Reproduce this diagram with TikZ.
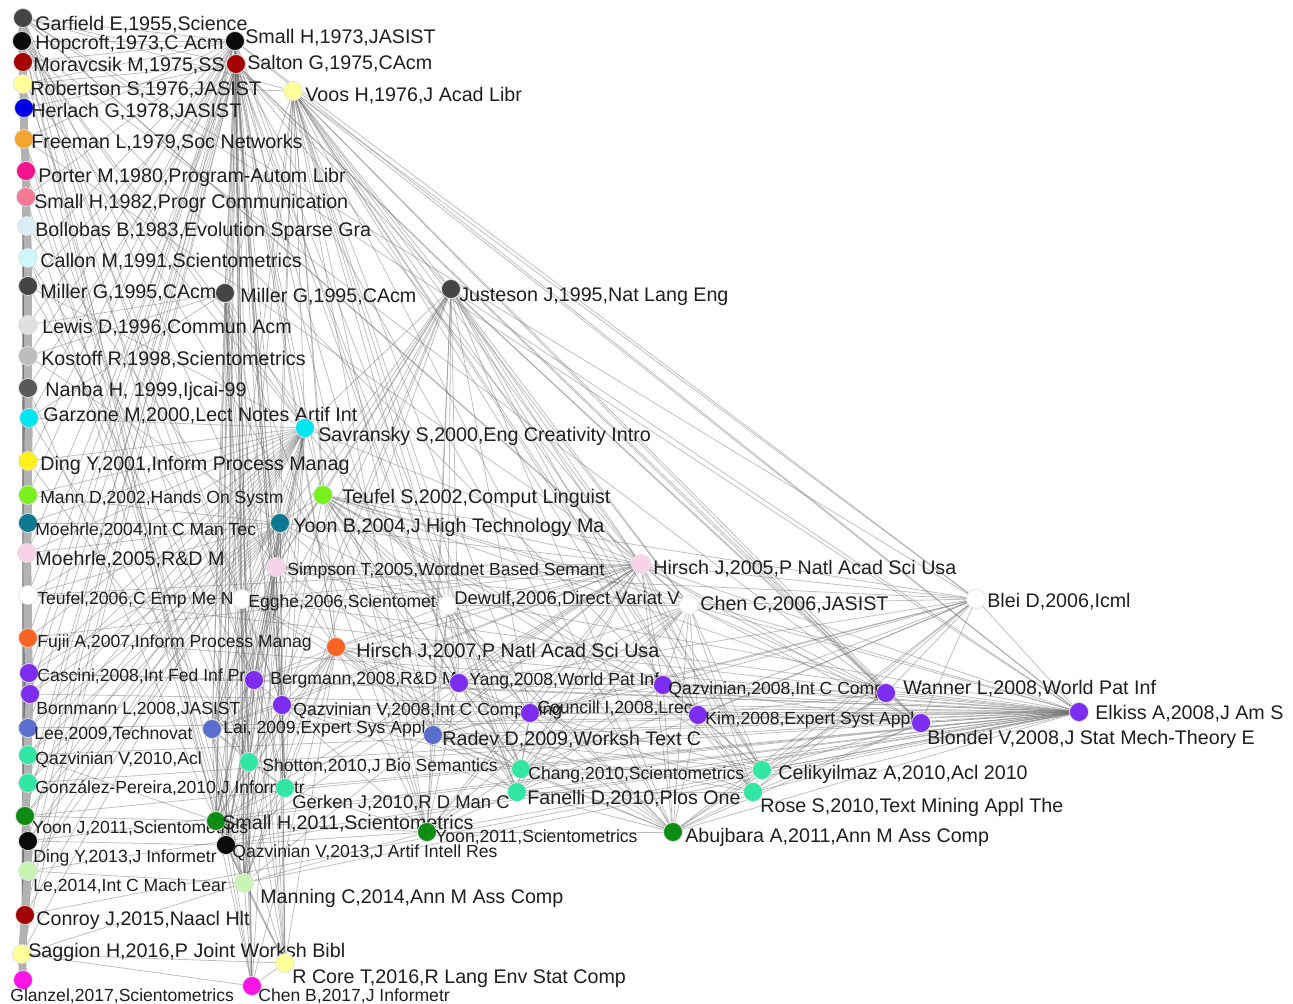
\documentclass[tikz,border=0pt]{standalone}
\usepackage{fontspec}
\setmainfont{Liberation Sans}
\usetikzlibrary{backgrounds}
\definecolor{DarkGrey}{HTML}{454545}
\definecolor{InkBlack}{HTML}{0A0A0A}
\definecolor{DeepRed}{HTML}{A30000}
\definecolor{PaleYellow}{HTML}{FFFF99}
\definecolor{PureBlue}{HTML}{0000E6}
\definecolor{Amber}{HTML}{F5A531}
\definecolor{HotPink}{HTML}{F2148C}
\definecolor{RosePink}{HTML}{F57896}
\definecolor{IceBlue}{HTML}{D9EEF5}
\definecolor{PaleCyan}{HTML}{CCF8FA}
\definecolor{LightGrey}{HTML}{E0E0E0}
\definecolor{MidGrey}{HTML}{BDBDBD}
\definecolor{SlateGrey}{HTML}{595959}
\definecolor{Aqua}{HTML}{00E6F0}
\definecolor{Lemon}{HTML}{FFF01A}
\definecolor{Lime}{HTML}{78F01E}
\definecolor{DeepTeal}{HTML}{0F7891}
\definecolor{Blush}{HTML}{F8D2E6}
\definecolor{Vermilion}{HTML}{FA6423}
\definecolor{Violet}{HTML}{7D2DF0}
\definecolor{Periwinkle}{HTML}{5A6ECD}
\definecolor{Aquamarine}{HTML}{32E6A5}
\definecolor{LeafGreen}{HTML}{0F8C14}
\definecolor{PaleGreen}{HTML}{C8F5B4}
\definecolor{Fuchsia}{HTML}{FA14E6}

\begin{document}
\begin{tikzpicture}[x=0.02cm, y=-0.02cm,
    dot/.style={circle, minimum size=0.38cm, inner sep=0pt, draw=black!12, line width=0.4pt},
    lbl/.style={anchor=west, inner sep=0pt, text=black!88, font=\fontsize{11.2}{13}\selectfont, text height=8pt, text depth=0pt},
    lbls/.style={lbl, font=\fontsize{10}{12}\selectfont, text height=7.2pt},
    lblm/.style={lbl, font=\fontsize{10.5}{12.5}\selectfont, text height=7.5pt},
    edge/.style={draw=black!55, line width=0.45pt, draw opacity=0.45},
    spine/.style={draw=black!30, line width=4.5pt}]
\useasboundingbox (0,0) rectangle (1293,1003);

% 1955-1983
\node[dot, fill=DarkGrey] (gar55) at (23,18) {};
\node[lbl] (gar55-t) at (35,23) {Garfield E,1955,Science};
\node[dot, fill=InkBlack] (hop73) at (22,41) {};
\node[lbl] (hop73-t) at (35,42) {Hopcroft,1973,C Acm};
\node[dot, fill=InkBlack] (sma73) at (235,41) {};
\node[lbl] (sma73-t) at (245,36) {Small H,1973,JASIST};
\node[dot, fill=DeepRed] (mor75) at (23,62) {};
\node[lbl] (mor75-t) at (33,64) {Moravcsik M,1975,SS};
\node[dot, fill=DeepRed] (sal75) at (236,64) {};
\node[lbl] (sal75-t) at (247,62) {Salton G,1975,CAcm};
\node[dot, fill=PaleYellow] (rob76) at (23,84) {};
\node[lbl] (rob76-t) at (30,88) {Robertson S,1976,JASIST};
\node[dot, fill=PaleYellow] (voo76) at (293,91) {};
\node[lbl] (voo76-t) at (305,94) {Voos H,1976,J Acad Libr};
\node[dot, fill=PureBlue] (her78) at (24,108) {};
\node[lbl] (her78-t) at (31,110) {Herlach G,1978,JASIST};
\node[dot, fill=Amber] (fre79) at (24,139) {};
\node[lbl] (fre79-t) at (31,141) {Freeman L,1979,Soc Networks};
\node[dot, fill=HotPink] (por80) at (26,171) {};
\node[lbl] (por80-t) at (38,175) {Porter M,1980,Program-Autom Libr};
\node[dot, fill=RosePink] (sma82) at (26,197) {};
\node[lbl] (sma82-t) at (34,201) {Small H,1982,Progr Communication};
\node[dot, fill=IceBlue] (bol83) at (27,226) {};
\node[lbl] (bol83-t) at (35,229) {Bollobas B,1983,Evolution Sparse Gra};

% 1991-1999
\node[dot, fill=PaleCyan] (cal91) at (28,258) {};
\node[lbl] (cal91-t) at (40,260) {Callon M,1991,Scientometrics};
\node[dot, fill=DarkGrey] (mil95) at (28,286) {};
\node[lbl] (mil95-t) at (40,291) {Miller G,1995,CAcm};
\node[dot, fill=DarkGrey] (mil95b) at (225,293) {};
\node[lbl] (mil95b-t) at (240,295) {Miller G,1995,CAcm};
\node[dot, fill=DarkGrey] (jus95) at (451,289) {};
\node[lbl] (jus95-t) at (459,294) {Justeson J,1995,Nat Lang Eng};
\node[dot, fill=LightGrey] (lew96) at (28,325) {};
\node[lbl] (lew96-t) at (42,326) {Lewis D,1996,Commun Acm};
\node[dot, fill=MidGrey] (kos98) at (28,356) {};
\node[lbl] (kos98-t) at (41,358) {Kostoff R,1998,Scientometrics};
\node[dot, fill=SlateGrey] (nan99) at (28,388) {};
\node[lbl] (nan99-t) at (45,389) {Nanba H, 1999,Ijcai-99};

% 2000-2005
\node[dot, fill=Aqua] (gar00) at (29,418) {};
\node[lbl] (gar00-t) at (43,414) {Garzone M,2000,Lect Notes Artif Int};
\node[dot, fill=Aqua] (sav00) at (305,428) {};
\node[lbl] (sav00-t) at (318,434) {Savransky S,2000,Eng Creativity Intro};
\node[dot, fill=Lemon] (din01) at (28,461) {};
\node[lbl] (din01-t) at (40,463) {Ding Y,2001,Inform Process Manag};
\node[dot, fill=Lime] (man02) at (28,495) {};
\node[lbls] (man02-t) at (40,497) {Mann D,2002,Hands On Systm};
\node[dot, fill=Lime] (teu02) at (323,495) {};
\node[lbl] (teu02-t) at (342,496) {Teufel S,2002,Comput Linguist};
\node[dot, fill=DeepTeal] (moe04) at (28,523) {};
\node[lbls] (moe04-t) at (35,529) {Moehrle,2004,Int C Man Tec};
\node[dot, fill=DeepTeal] (yoo04) at (280,523) {};
\node[lbl] (yoo04-t) at (293,525) {Yoon B,2004,J High Technology Ma};
\node[dot, fill=Blush] (moe05) at (27,553) {};
\node[lbl] (moe05-t) at (35,558) {Moehrle,2005,R\&D M};
\node[dot, fill=Blush] (sim05) at (276,567) {};
\node[lbls] (sim05-t) at (287,569) {Simpson T,2005,Wordnet Based Semant};
\node[dot, fill=Blush] (hir05) at (641,564) {};
\node[lbl] (hir05-t) at (653,567) {Hirsch J,2005,P Natl Acad Sci Usa};

% 2006-2007
\node[dot, fill=white] (teu06) at (28,595) {};
\node[lbls] (teu06-t) at (37,598) {Teufel,2006,C Emp Me N};
\node[dot, fill=white] (egg06) at (242,599) {};
\node[lbls] (egg06-t) at (248,601) {Egghe,2006,Scientomet};
\node[dot, fill=white] (dew06) at (448,605) {};
\node[lblm] (dew06-t) at (454,598) {Dewulf,2006,Direct Variat V};
\node[dot, fill=white] (che06) at (689,605) {};
\node[lbl] (che06-t) at (700,603) {Chen C,2006,JASIST};
\node[dot, fill=white] (ble06) at (976,599) {};
\node[lbl] (ble06-t) at (987,600) {Blei D,2006,Icml};
\node[dot, fill=Vermilion] (fuj07) at (28,638) {};
\node[lbls] (fuj07-t) at (37,641) {Fujii A,2007,Inform Process Manag};
\node[dot, fill=Vermilion] (hir07) at (336,647) {};
\node[lbl] (hir07-t) at (356,650) {Hirsch J,2007,P Natl Acad Sci Usa};

% 2008
\node[dot, fill=Violet] (cas08) at (29,673) {};
\node[lbls] (cas08-t) at (37,675) {Cascini,2008,Int Fed Inf Pr};
\node[dot, fill=Violet] (bor08) at (30,694) {};
\node[lbls] (bor08-t) at (36,708) {Bornmann L,2008,JASIST};
\node[dot, fill=Violet] (ber08) at (254,680) {};
\node[lbls] (ber08-t) at (270,678) {Bergmann,2008,R\&D M};
\node[dot, fill=Violet] (qaz08) at (282,705) {};
\node[lbls] (qaz08-t) at (293,709) {Qazvinian V,2008,Int C Comp Ling};
\node[dot, fill=Violet] (yan08) at (459,683) {};
\node[lbls] (yan08-t) at (469,679) {Yang,2008,World Pat Inf};
\node[dot, fill=Violet] (cou08) at (530,713) {};
\node[lbls] (cou08-t) at (537,707) {Councill I,2008,Lrec};
\node[dot, fill=Violet] (qaz08b) at (663,685) {};
\node[lbls] (qaz08b-t) at (668,688) {Qazvinian,2008,Int C Comp};
\node[dot, fill=Violet] (kim08) at (698,715) {};
\node[lbls] (kim08-t) at (705,718) {Kim,2008,Expert Syst Appl};
\node[dot, fill=Violet] (wan08) at (886,693) {};
\node[lbl] (wan08-t) at (903,687) {Wanner L,2008,World Pat Inf};
\node[dot, fill=Violet] (blo08) at (921,723) {};
\node[lbl] (blo08-t) at (927,737) {Blondel V,2008,J Stat Mech-Theory E};
\node[dot, fill=Violet] (elk08) at (1079,712) {};
\node[lbl] (elk08-t) at (1095,712) {Elkiss A,2008,J Am S};

% 2009-2011
\node[dot, fill=Periwinkle] (lee09) at (28,728) {};
\node[lbls] (lee09-t) at (34,733) {Lee,2009,Technovat};
\node[dot, fill=Periwinkle] (lai09) at (212,729) {};
\node[lbls] (lai09-t) at (223,727) {Lai, 2009,Expert Sys Appl};
\node[dot, fill=Periwinkle] (rad09) at (433,735) {};
\node[lbl] (rad09-t) at (442,738) {Radev D,2009,Worksh Text C};
\node[dot, fill=Aquamarine] (qaz10) at (28,755) {};
\node[lbls] (qaz10-t) at (35,758) {Qazvinian V,2010,Acl};
\node[dot, fill=Aquamarine] (sho10) at (249,762) {};
\node[lbls] (sho10-t) at (262,765) {Shotton,2010,J Bio Semantics};
\node[dot, fill=Aquamarine] (gon10) at (28,783) {};
\node[lbls] (gon10-t) at (35,787) {González-Pereira,2010,J Informetr};
\node[dot, fill=Aquamarine] (ger10) at (285,788) {};
\node[lblm] (ger10-t) at (292,802) {Gerken J,2010,R D Man C};
\node[dot, fill=Aquamarine] (cha10) at (521,769) {};
\node[lbls] (cha10-t) at (528,773) {Chang,2010,Scientometrics};
\node[dot, fill=Aquamarine] (fan10) at (517,792) {};
\node[lbl] (fan10-t) at (527,797) {Fanelli D,2010,Plos One};
\node[dot, fill=Aquamarine] (cel10) at (762,770) {};
\node[lbl] (cel10-t) at (778,772) {Celikyilmaz A,2010,Acl 2010};
\node[dot, fill=Aquamarine] (ros10) at (753,792) {};
\node[lbl] (ros10-t) at (760,805) {Rose S,2010,Text Mining Appl The};
\node[dot, fill=LeafGreen] (yoj11) at (25,816) {};
\node[lbls] (yoj11-t) at (32,827) {Yoon J,2011,Scientometrics};
\node[dot, fill=LeafGreen] (sma11) at (216,821) {};
\node[lbl] (sma11-t) at (222,822) {Small H,2011,Scientometrics};
\node[dot, fill=LeafGreen] (yoo11) at (427,832) {};
\node[lbls] (yoo11-t) at (435,836) {Yoon,2011,Scientometrics};
\node[dot, fill=LeafGreen] (abu11) at (673,832) {};
\node[lbl] (abu11-t) at (685,835) {Abujbara A,2011,Ann M Ass Comp};

% 2013-2017
\node[dot, fill=InkBlack] (din13) at (28,841) {};
\node[lbls] (din13-t) at (33,856) {Ding Y,2013,J Informetr};
\node[dot, fill=InkBlack] (qaz13) at (226,845) {};
\node[lbls] (qaz13-t) at (232,851) {Qazvinian V,2013,J Artif Intell Res};
\node[dot, fill=PaleGreen] (le14) at (28,871) {};
\node[lbls] (le14-t) at (33,885) {Le,2014,Int C Mach Lear};
\node[dot, fill=PaleGreen] (man14) at (244,883) {};
\node[lbl] (man14-t) at (260,896) {Manning C,2014,Ann M Ass Comp};
\node[dot, fill=DeepRed] (con15) at (25,915) {};
\node[lbl] (con15-t) at (36,918) {Conroy J,2015,Naacl Hlt};
\node[dot, fill=PaleYellow] (sag16) at (22,954) {};
\node[lbl] (sag16-t) at (28,950) {Saggion H,2016,P Joint Worksh Bibl};
\node[dot, fill=PaleYellow] (rco16) at (285,963) {};
\node[lbl] (rco16-t) at (292,976) {R Core T,2016,R Lang Env Stat Comp};
\node[dot, fill=Fuchsia] (gla17) at (23,980) {};
\node[lbls] (gla17-t) at (10,995) {Glanzel,2017,Scientometrics};
\node[dot, fill=Fuchsia] (che17) at (252,986) {};
\node[lbls] (che17-t) at (258,995) {Chen B,2017,J Informetr};

\begin{scope}[on background layer]
\fill[white] (0,0) rectangle (1293,1003);
% co-citation links
\foreach \t in {sma73,mor75,sal75,voo76,por80,bol83,cal91,kos98,gar00,din01,moe05,sim05,hir05,ble06,egg06,fuj07,cas08,ber08,lee09,qaz10,sho10,yoj11,sma11,din13,le14,con15,gla17,elk08,che06}
  \draw[edge] (gar55) -- (\t);
\foreach \t in {sma73,rob76,mil95,lew96,nan99,sav00,moe04,teu06,qaz08,cou08,rad09,gon10,qaz13,man14,sag16,kim08,wan08}
  \draw[edge] (hop73) -- (\t);
\foreach \t in {mor75,rob76,fre79,sma82,cal91,mil95b,lew96,kos98,gar00,din01,man02,yoo04,sim05,egg06,fuj07,cas08,bor08,ber08,lai09,qaz08,sho10,ger10,yoj11,sma11,qaz13,man14,le14,rco16,che17,yoo11,cha10,hir07,yan08,elk08,ble06}
  \draw[edge] (sma73) -- (\t);
\foreach \t in {rob76,her78,mil95,mil95b,jus95,nan99,sav00,teu02,moe05,sim05,teu06,hir07,yan08,qaz08,lee09,rad09,gon10,ger10,sma11,qaz13,man14,sag16,che17,fan10,din13,con15,abu11,hir05,wan08,blo08}
  \draw[edge] (sal75) -- (\t);
\foreach \t in {rob76,jus95,sav00,teu02,yoo04,sim05,hir05,dew06,che06,ble06,yan08,cou08,qaz08b,kim08,wan08,blo08,elk08,cha10,cel10,ros10,abu11,hir07,egg06,rad09,mil95b,fan10,yoo11,lai09}
  \draw[edge] (voo76) -- (\t);
\foreach \t in {her78,fre79,por80,bol83,lew96,gar00,moe05,cas08,qaz10,sma11,con15,gla17}
  \draw[edge] (mor75) -- (\t);
\foreach \t in {her78,fre79,sma82,kos98,nan99,din01,man02,moe04,fuj07,cas08,qaz10,yoj11,din13,sag16,ber08,sav00}
  \draw[edge] (rob76) -- (\t);
\foreach \t in {por80,sma82,cal91,lew96,din01,moe05,bor08,lee09,gon10,le14}
  \draw[edge] (her78) -- (\t);
\foreach \t in {bol83,mil95,kos98,gar00,teu06,lee09,sho10,yoj11,con15,man14,hir05}
  \draw[edge] (fre79) -- (\t);
\foreach \t in {sma82,cal91,mil95,nan99,man02,moe04,fuj07,qaz10,din13,sag16,lai09}
  \draw[edge] (por80) -- (\t);
\foreach \t in {bol83,lew96,kos98,gar00,moe05,teu06,cas08,gon10,le14,qaz13}
  \draw[edge] (sma82) -- (\t);
\foreach \t in {cal91,mil95,nan99,din01,man02,bor08,yoj11,con15,gla17,sim05}
  \draw[edge] (bol83) -- (\t);
\foreach \t in {mil95,lew96,kos98,gar00,moe04,fuj07,lee09,sho10,din13,sag16,egg06}
  \draw[edge] (cal91) -- (\t);
\foreach \t in {lew96,nan99,din01,teu06,qaz10,yoj11,le14,ber08,sav00}
  \draw[edge] (mil95) -- (\t);
\foreach \t in {lew96,kos98,gar00,sav00,yoo04,sim05,egg06,ber08,qaz08,lai09,sho10,sma11,qaz13,man14,rco16,che17,yoo11}
  \draw[edge] (mil95b) -- (\t);
\foreach \t in {sav00,teu02,yoo04,sim05,egg06,dew06,hir05,che06,yan08,cou08,kim08,qaz08b,wan08,blo08,elk08,ber08,qaz08,sho10,cel10,abu11,rad09,yoo11,man14,lai09}
  \draw[edge] (jus95) -- (\t);
\foreach \t in {kos98,gar00,man02,moe05,fuj07,bor08,gon10,din13,con15}
  \draw[edge] (lew96) -- (\t);
\foreach \t in {nan99,din01,moe04,teu06,cas08,lee09,qaz10,yoj11,le14,sag16,gla17,yoo04}
  \draw[edge] (kos98) -- (\t);
\foreach \t in {gar00,man02,moe05,fuj07,bor08,gon10,din13,con15,qaz13}
  \draw[edge] (nan99) -- (\t);
\foreach \t in {sav00,din01,moe04,teu06,cas08,lee09,sho10,yoj11,le14,sag16}
  \draw[edge] (gar00) -- (\t);
\foreach \t in {din01,man02,teu02,moe04,yoo04,moe05,sim05,teu06,egg06,fuj07,cas08,bor08,ber08,qaz08,lee09,lai09,qaz10,gon10,sho10,ger10,yoj11,sma11,din13,qaz13,le14,man14,con15,sag16,hir05,dew06}
  \draw[edge] (sav00) -- (\t);
\foreach \t in {man02,moe05,fuj07,bor08,qaz10,sho10,din13,con15,gla17}
  \draw[edge] (din01) -- (\t);
\foreach \t in {moe04,teu06,cas08,lee09,gon10,yoj11,le14,sag16,yoo04}
  \draw[edge] (man02) -- (\t);
\foreach \t in {yoo04,sim05,egg06,hir05,dew06,che06,ble06,qaz08,yan08,cou08,qaz08b,kim08,wan08,elk08,rad09,cha10,fan10,cel10,abu11,yoo11}
  \draw[edge] (teu02) -- (\t);
\foreach \t in {moe05,fuj07,bor08,qaz10,din13,con15,gla17,yoo04}
  \draw[edge] (moe04) -- (\t);
\foreach \t in {moe05,sim05,teu06,egg06,hir07,cas08,bor08,ber08,qaz08,lai09,lee09,qaz10,gon10,sho10,ger10,yoj11,sma11,din13,qaz13,le14,man14,rco16,che17,hir05,dew06,yan08}
  \draw[edge] (yoo04) -- (\t);
\foreach \t in {teu06,cas08,lee09,gon10,yoj11,le14,sag16}
  \draw[edge] (moe05) -- (\t);
\foreach \t in {egg06,hir05,dew06,hir07,ber08,qaz08,lai09,sho10,ger10,sma11,qaz13,man14,rco16,che06,yan08,elk08,ble06}
  \draw[edge] (sim05) -- (\t);
\foreach \t in {egg06,dew06,che06,ble06,hir07,ber08,yan08,cou08,qaz08b,kim08,wan08,blo08,elk08,rad09,cha10,fan10,cel10,ros10,abu11,yoo11,sma11,man14,ger10,qaz08,qaz13,lai09,teu06,fuj07}
  \draw[edge] (hir05) -- (\t);
\foreach \t in {fuj07,bor08,qaz10,din13,con15,gla17,egg06,elk08}
  \draw[edge] (teu06) -- (\t);
\foreach \t in {dew06,hir07,ber08,qaz08,lai09,sho10,ger10,sma11,qaz13,man14,che17,rco16,cha10,elk08}
  \draw[edge] (egg06) -- (\t);
\foreach \t in {che06,hir07,yan08,cou08,rad09,cha10,fan10,yoo11,abu11,qaz08b}
  \draw[edge] (dew06) -- (\t);
\foreach \t in {ble06,yan08,cou08,qaz08b,kim08,wan08,blo08,elk08,cha10,fan10,cel10,ros10,abu11,yoo11,rad09}
  \draw[edge] (che06) -- (\t);
\foreach \t in {wan08,blo08,elk08,kim08,qaz08b,cel10,ros10,abu11,cha10,fan10,rad09,cou08,yan08}
  \draw[edge] (ble06) -- (\t);
\foreach \t in {cas08,lee09,gon10,yoj11,le14,sag16,elk08}
  \draw[edge] (fuj07) -- (\t);
\foreach \t in {ber08,qaz08,yan08,cou08,lai09,rad09,sho10,ger10,cha10,fan10,sma11,yoo11,qaz13,man14,rco16,che17,abu11,elk08}
  \draw[edge] (hir07) -- (\t);
\foreach \t in {bor08,qaz10,din13,con15,gla17,elk08,ber08}
  \draw[edge] (cas08) -- (\t);
\foreach \t in {lee09,gon10,yoj11,le14,sag16,elk08}
  \draw[edge] (bor08) -- (\t);
\foreach \t in {qaz08,lai09,sho10,ger10,sma11,qaz13,man14,elk08}
  \draw[edge] (ber08) -- (\t);
\foreach \t in {lai09,rad09,sho10,ger10,cha10,fan10,sma11,yoo11,qaz13,man14,rco16,elk08,cou08}
  \draw[edge] (qaz08) -- (\t);
\foreach \t in {cou08,qaz08b,rad09,cha10,fan10,yoo11,abu11,elk08}
  \draw[edge] (yan08) -- (\t);
\foreach \t in {qaz08b,kim08,rad09,cha10,fan10,cel10,ros10,yoo11,abu11,elk08}
  \draw[edge] (cou08) -- (\t);
\foreach \t in {kim08,wan08,blo08,elk08,cel10,ros10,abu11,cha10,fan10}
  \draw[edge] (qaz08b) -- (\t);
\foreach \t in {wan08,blo08,elk08,cel10,ros10,abu11}
  \draw[edge] (kim08) -- (\t);
\foreach \t in {blo08,elk08,cel10,ros10,abu11}
  \draw[edge] (wan08) -- (\t);
\foreach \t in {elk08,cel10,ros10,abu11}
  \draw[edge] (blo08) -- (\t);
\foreach \t in {qaz10,din13,con15,gla17,elk08}
  \draw[edge] (lee09) -- (\t);
\foreach \t in {sho10,ger10,sma11,qaz13,man14,rco16,che17,elk08}
  \draw[edge] (lai09) -- (\t);
\foreach \t in {cha10,fan10,yoo11,abu11,cel10,ros10,elk08}
  \draw[edge] (rad09) -- (\t);
\foreach \t in {gon10,yoj11,le14,sag16,elk08,sma11}
  \draw[edge] (qaz10) -- (\t);
\foreach \t in {yoj11,din13,con15,gla17,elk08}
  \draw[edge] (gon10) -- (\t);
\foreach \t in {ger10,sma11,qaz13,man14,rco16,elk08}
  \draw[edge] (sho10) -- (\t);
\foreach \t in {sma11,yoo11,qaz13,man14,elk08}
  \draw[edge] (ger10) -- (\t);
\foreach \t in {fan10,yoo11,abu11,cel10,elk08}
  \draw[edge] (cha10) -- (\t);
\foreach \t in {yoo11,abu11,elk08,ros10}
  \draw[edge] (fan10) -- (\t);
\foreach \t in {abu11,elk08,ros10}
  \draw[edge] (cel10) -- (\t);
\foreach \t in {abu11,elk08}
  \draw[edge] (ros10) -- (\t);
\foreach \t in {sma11,din13,le14,con15,sag16,gla17,elk08}
  \draw[edge] (yoj11) -- (\t);
\foreach \t in {qaz13,man14,rco16,che17,yoo11,elk08}
  \draw[edge] (sma11) -- (\t);
\foreach \t in {abu11,elk08,qaz13,man14}
  \draw[edge] (yoo11) -- (\t);
\foreach \t in {le14,con15,sag16,gla17,elk08,qaz13}
  \draw[edge] (din13) -- (\t);
\foreach \t in {man14,rco16,che17,elk08}
  \draw[edge] (qaz13) -- (\t);
\foreach \t in {con15,sag16,gla17,elk08,man14}
  \draw[edge] (le14) -- (\t);
\foreach \t in {rco16,che17,elk08,sag16}
  \draw[edge] (man14) -- (\t);
\foreach \t in {sag16,gla17,elk08}
  \draw[edge] (con15) -- (\t);
\foreach \t in {gla17,rco16,che17}
  \draw[edge] (sag16) -- (\t);
\draw[edge] (abu11) -- (elk08);
\draw[edge] (rco16) -- (che17);
% time line
\draw[spine] (gar55.center) -- (hop73.center) -- (mor75.center) -- (rob76.center) -- (her78.center)
  -- (fre79.center) -- (por80.center) -- (sma82.center) -- (bol83.center) -- (cal91.center)
  -- (mil95.center) -- (lew96.center) -- (kos98.center) -- (nan99.center) -- (gar00.center)
  -- (din01.center) -- (man02.center) -- (moe04.center) -- (moe05.center) -- (teu06.center)
  -- (fuj07.center) -- (cas08.center) -- (bor08.center) -- (lee09.center) -- (qaz10.center)
  -- (gon10.center) -- (yoj11.center) -- (din13.center) -- (le14.center) -- (con15.center)
  -- (sag16.center) -- (gla17.center);
\end{scope}
\end{tikzpicture}
\end{document}
